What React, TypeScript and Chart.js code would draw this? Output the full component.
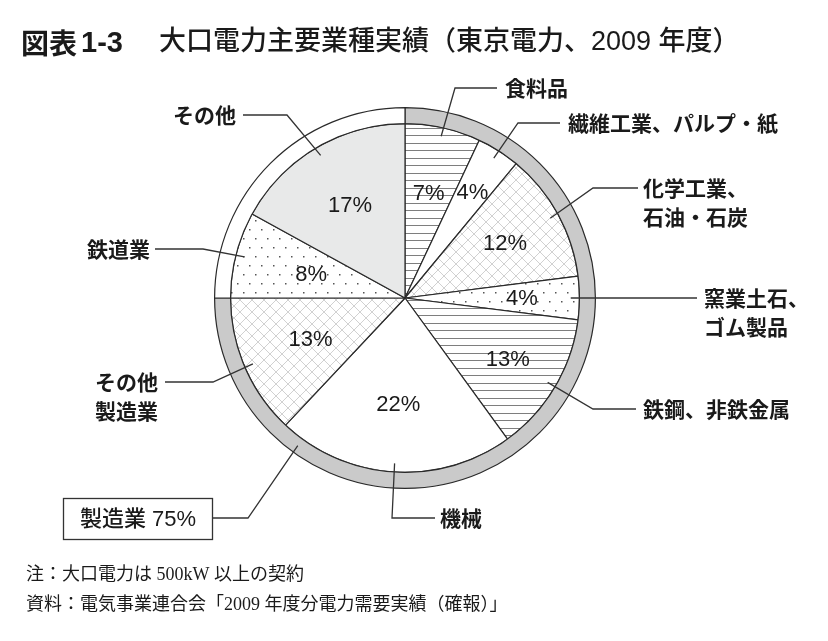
import React, { useEffect, useRef } from "react";
import { Chart, registerables } from "chart.js";

Chart.register(...registerables);

// ---- data ----
const categories = [
  "食料品",
  "繊維工業、パルプ・紙",
  "化学工業、\n石油・石炭",
  "窯業土石、\nゴム製品",
  "鉄鋼、非鉄金属",
  "機械",
  "その他\n製造業",
  "鉄道業",
  "その他",
];
const shares = [7, 4, 12, 4, 13, 22, 13, 8, 17];
const groupLabels = ["製造業", "非製造業"];
const groupShares = [75, 25];

const titleHead = "図表";
const titleNum = "1-3";
const titleText = "大口電力主要業種実績（東京電力、2009 年度）";
const noteLines = [
  "注：大口電力は 500kW 以上の契約",
  "資料：電気事業連合会「2009 年度分電力需要実績（確報）」",
];

// ---- layout / style ----
type LabelLayout = {
  elbow: [number, number] | null;
  end: [number, number];
  text: [number, number];
  align: CanvasTextAlign;
};
const labelLayout: LabelLayout[] = [
  { elbow: [455, 88], end: [497, 88], text: [505, 88], align: "left" },
  { elbow: [518, 123], end: [560, 123], text: [568, 123], align: "left" },
  { elbow: [593, 188], end: [638, 188], text: [643, 188], align: "left" },
  { elbow: null, end: [697, 298], text: [704, 298], align: "left" },
  { elbow: [593, 409], end: [636, 409], text: [643, 409], align: "left" },
  { elbow: [392, 518], end: [435, 518], text: [440, 518], align: "left" },
  { elbow: [213, 382], end: [165, 382], text: [158, 382], align: "right" },
  { elbow: [203, 249], end: [155, 249], text: [150, 249], align: "right" },
  { elbow: [287, 115], end: [243, 115], text: [236, 115], align: "right" },
];
const pctRadius = [0.62, 0.72, 0.655, 0.67, 0.685, 0.61, 0.59, 0.555, 0.62];
const groupLeader = { frac: 0.8, elbow: [248, 518], end: [212, 518] };
const groupBox = { x: 63, y: 498, w: 149, h: 41 };

const INK = "#1a1a1a";
const LINE = "#333333";

function makeLines(): CanvasPattern {
  const c = document.createElement("canvas");
  c.width = 8;
  c.height = 15;
  const g = c.getContext("2d")!;
  g.fillStyle = "#ffffff";
  g.fillRect(0, 0, 8, 15);
  g.fillStyle = "#7e7e7e";
  g.fillRect(0, 0, 8, 1);
  g.fillRect(0, 8, 8, 1);
  return g.createPattern(c, "repeat")!;
}
function makeCross(): CanvasPattern {
  const c = document.createElement("canvas");
  c.width = 12;
  c.height = 12;
  const g = c.getContext("2d")!;
  g.fillStyle = "#ffffff";
  g.fillRect(0, 0, 12, 12);
  g.strokeStyle = "#cccccc";
  g.lineWidth = 0.9;
  g.beginPath();
  g.moveTo(-2, -2);
  g.lineTo(14, 14);
  g.moveTo(14, -2);
  g.lineTo(-2, 14);
  g.stroke();
  return g.createPattern(c, "repeat")!;
}
function makeDots(): CanvasPattern {
  const c = document.createElement("canvas");
  c.width = 12;
  c.height = 18;
  const g = c.getContext("2d")!;
  g.fillStyle = "#ffffff";
  g.fillRect(0, 0, 12, 18);
  g.fillStyle = "#555555";
  g.fillRect(3, 4, 1.5, 1.5);
  g.fillRect(9, 13, 1.5, 1.5);
  return g.createPattern(c, "repeat")!;
}

const annotate = {
  id: "annotate",
  afterDraw(chart: any) {
    const ctx: CanvasRenderingContext2D = chart.ctx;
    const ring = chart.getDatasetMeta(0).data;
    const arcs = chart.getDatasetMeta(1).data;
    ctx.save();

    // title
    ctx.fillStyle = INK;
    ctx.textBaseline = "middle";
    ctx.textAlign = "left";
    ctx.font = 'bold 28px "Noto Sans CJK JP"';
    ctx.fillText(titleHead, 21, 43);
    const hw = ctx.measureText(titleHead).width;
    ctx.font = 'bold 29px "Liberation Sans", "Noto Sans CJK JP"';
    ctx.fillText(titleNum, 21 + hw + 4, 44);
    ctx.font = '500 27px "Liberation Sans", "Noto Sans CJK JP"';
    ctx.fillText(titleText, 159, 43);

    // leader lines
    ctx.strokeStyle = LINE;
    ctx.lineWidth = 1.3;
    arcs.forEach((a: any, i: number) => {
      const p = a.getProps(["x", "y", "startAngle", "endAngle", "outerRadius"], true);
      const mid = (p.startAngle + p.endAngle) / 2;
      const r = p.outerRadius * 0.95;
      const sx = p.x + r * Math.cos(mid);
      const sy = p.y + r * Math.sin(mid);
      const L = labelLayout[i];
      ctx.beginPath();
      ctx.moveTo(sx, sy);
      if (L.elbow) ctx.lineTo(L.elbow[0], L.elbow[1]);
      ctx.lineTo(L.end[0], L.end[1]);
      ctx.stroke();
    });
    {
      const p = ring[0].getProps(["x", "y", "startAngle", "endAngle", "innerRadius", "outerRadius"], true);
      const ang = p.startAngle + (p.endAngle - p.startAngle) * groupLeader.frac;
      const r = (p.innerRadius + p.outerRadius) / 2;
      ctx.beginPath();
      ctx.moveTo(p.x + r * Math.cos(ang), p.y + r * Math.sin(ang));
      ctx.lineTo(groupLeader.elbow[0], groupLeader.elbow[1]);
      ctx.lineTo(groupLeader.end[0], groupLeader.end[1]);
      ctx.stroke();
    }

    // category labels
    ctx.fillStyle = INK;
    ctx.font = 'bold 21px "Noto Sans CJK JP"';
    categories.forEach((name, i) => {
      const L = labelLayout[i];
      ctx.textAlign = L.align;
      name.split("\n").forEach((line, k) => {
        ctx.fillText(line, L.text[0], L.text[1] + k * 29);
      });
    });

    // percentages
    ctx.font = '22px "Liberation Sans", Arial, sans-serif';
    ctx.textAlign = "center";
    arcs.forEach((a: any, i: number) => {
      const p = a.getProps(["x", "y", "startAngle", "endAngle", "outerRadius"], true);
      const mid = (p.startAngle + p.endAngle) / 2;
      const r = p.outerRadius * pctRadius[i];
      ctx.fillText(`${shares[i]}%`, p.x + r * Math.cos(mid), p.y + r * Math.sin(mid) + 1);
    });

    // group box
    ctx.fillStyle = "#ffffff";
    ctx.fillRect(groupBox.x, groupBox.y, groupBox.w, groupBox.h);
    ctx.strokeStyle = LINE;
    ctx.lineWidth = 1.3;
    ctx.strokeRect(groupBox.x + 0.5, groupBox.y + 0.5, groupBox.w, groupBox.h);
    ctx.fillStyle = INK;
    ctx.font = '500 22px "Liberation Sans", "Noto Sans CJK JP"';
    ctx.textAlign = "center";
    ctx.fillText(`${groupLabels[0]} ${groupShares[0]}%`, groupBox.x + groupBox.w / 2 + 0.5, groupBox.y + groupBox.h / 2 + 1);

    // notes
    ctx.textAlign = "left";
    ctx.font = '18px "Liberation Serif", "Noto Sans CJK JP", serif';
    noteLines.forEach((t, k) => ctx.fillText(t, 26, 575 + k * 30));

    ctx.restore();
  },
};

export default function App() {
  const ref = useRef<HTMLCanvasElement>(null);
  useEffect(() => {
    if (!ref.current) return;
    const lines = makeLines();
    const cross = makeCross();
    const dots = makeDots();
    const fills = [lines, "#ffffff", cross, dots, lines, "#ffffff", cross, dots, "#e8e9e9"];
    const chart = new Chart(ref.current, {
      type: "doughnut",
      data: {
        labels: categories,
        datasets: [
          {
            label: "区分",
            data: groupShares,
            backgroundColor: ["#cacaca", "#ffffff"],
            borderColor: "#2a2a2a",
            borderWidth: 1.2,
            hoverOffset: 0,
            weight: 16,
          } as any,
          {
            label: "業種",
            data: shares,
            backgroundColor: fills as any,
            borderColor: "#2a2a2a",
            borderWidth: 1.2,
            hoverOffset: 0,
            weight: 175,
          } as any,
        ],
      },
      options: {
        responsive: false,
        animation: false,
        cutout: 0,
        events: [],
        layout: { padding: { left: 214, right: 232, top: 107, bottom: 152 } },
        plugins: { legend: { display: false }, tooltip: { enabled: false } },
      } as any,
      plugins: [annotate],
    });
    return () => chart.destroy();
  }, []);
  return (
    <div style={{ position: "absolute", left: 0, top: 0, width: 828, height: 641, background: "#fff" }}>
      <canvas ref={ref} width={828} height={641} style={{ display: "block" }} />
    </div>
  );
}
